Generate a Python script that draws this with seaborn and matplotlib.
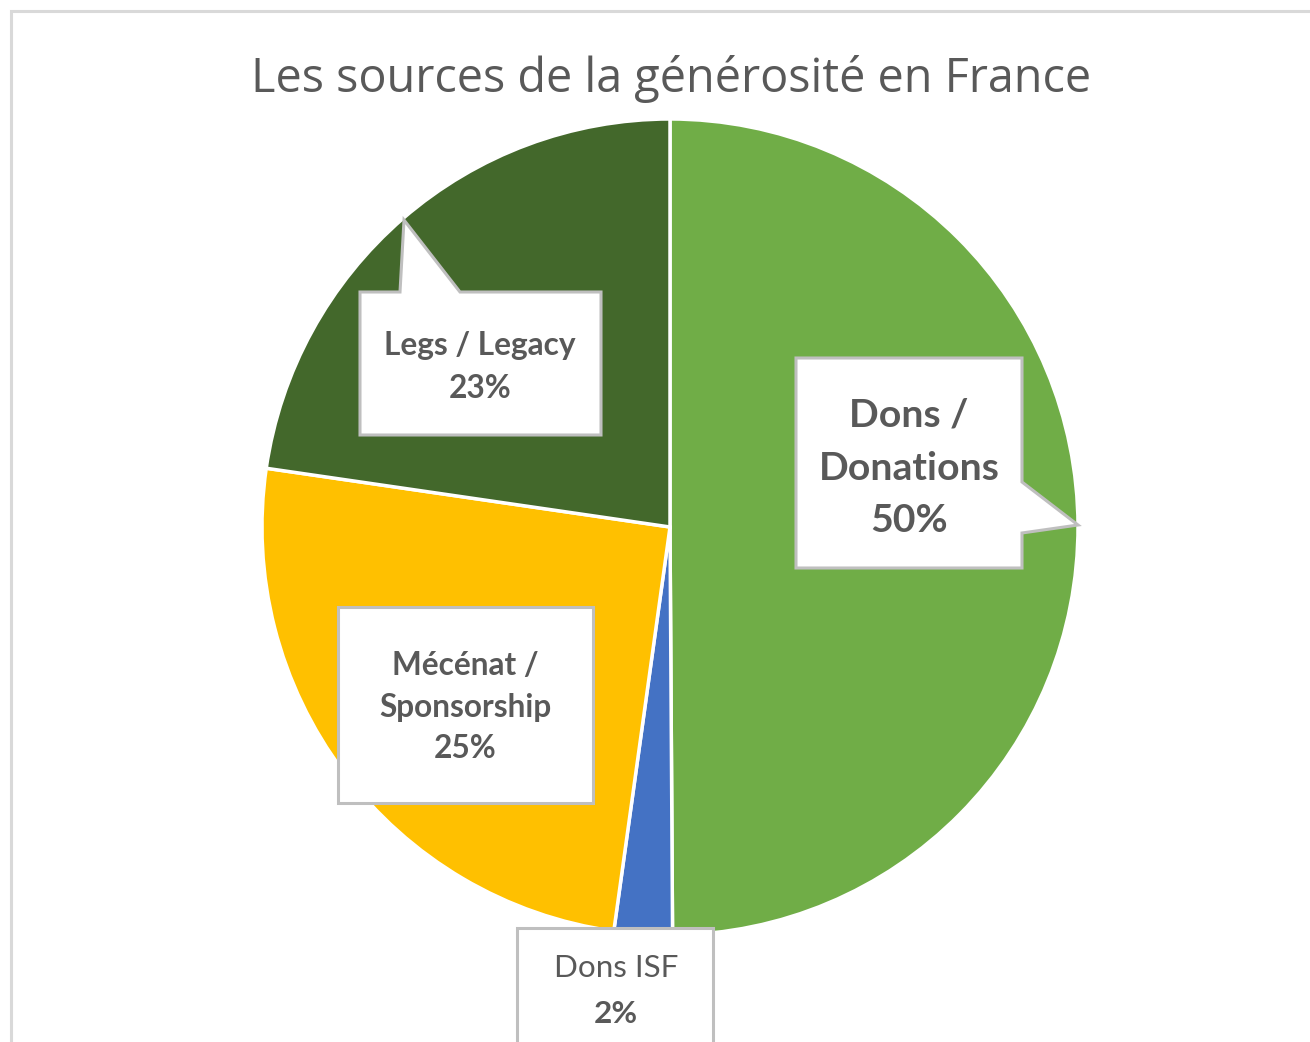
import matplotlib
matplotlib.use("Agg")
import matplotlib.pyplot as plt
from matplotlib.patches import Polygon
import seaborn as sns

# chart data
title = "Les sources de la générosité en France"
names = ["Dons /\nDonations", "Dons ISF", "Mécénat /\nSponsorship", "Legs / Legacy"]
shares = [49.9, 2.3, 25.1, 22.7]
colors = ["#70AD47", "#4472C4", "#FFC000", "#43682B"]

W, H = 1310, 1042
TXT = "#595959"
EDGE = "#BFBFBF"

sns.set_theme(style="white")
plt.rcParams['font.family'] = ['Lato', 'DejaVu Sans']


def Y(y):
    """image row -> data y"""
    return H - y


fig = plt.figure(figsize=(W / 100, H / 100), dpi=100)
ax = fig.add_axes([0, 0, 1, 1])

ax.pie(shares, colors=colors, startangle=90, counterclock=False,
       center=(670, Y(527)), radius=408,
       wedgeprops=dict(edgecolor="white", linewidth=2.5))
ax.set_xlim(0, W)
ax.set_ylim(0, H)
ax.set_aspect("equal")
ax.axis("off")

# outer chart frame (cropped on right / bottom)
ax.plot([11, 11, W + 5], [Y(H + 5), Y(11), Y(11)], color="#D9D9D9", lw=2.2,
        solid_joinstyle="miter", clip_on=False)

ax.text(671, Y(92), title, ha="center", va="baseline", fontsize=33.7,
        color=TXT, family=["Open Sans", "DejaVu Sans"])


def callout(pts):
    poly = Polygon([(x, Y(y)) for x, y in pts], closed=True, facecolor="white",
                   edgecolor=EDGE, lw=2.2, joinstyle="miter", zorder=3)
    ax.add_patch(poly)


def lines(x, rows, size, weights):
    for (txt, base), w in zip(rows, weights):
        ax.text(x, Y(base), txt, ha="center", va="baseline", fontsize=size,
                color=TXT, fontweight=w, zorder=4)


pct = [f"{v:.0f}%" for v in shares]

# Dons / Donations
callout([(796, 358), (1022, 358), (1022, 482), (1078, 525), (1022, 533),
         (1022, 568), (796, 568)])
l0 = names[0].split("\n")
lines(909, [(l0[0], 427), (l0[1], 480), (pct[0], 532)], 28.3, ["bold"] * 3)

# Dons ISF
callout([(517, 928), (713, 928), (713, 1060), (517, 1060)])
lines(616, [(names[1], 977), (pct[1], 1023)], 22.6, ["normal", "bold"])

# Mécénat / Sponsorship
callout([(338, 607), (593, 607), (593, 803), (338, 803)])
l2 = names[2].split("\n")
lines(465, [(l2[0], 675), (l2[1], 717), (pct[2], 758)], 22.8, ["bold"] * 3)

# Legs / Legacy
callout([(360, 292), (400, 292), (404, 220), (460, 292), (601, 292),
         (601, 435), (360, 435)])
lines(480, [(names[3], 355), (pct[3], 398)], 22.8, ["bold"] * 2)

fig.savefig("out.png", dpi=100, facecolor="white")
